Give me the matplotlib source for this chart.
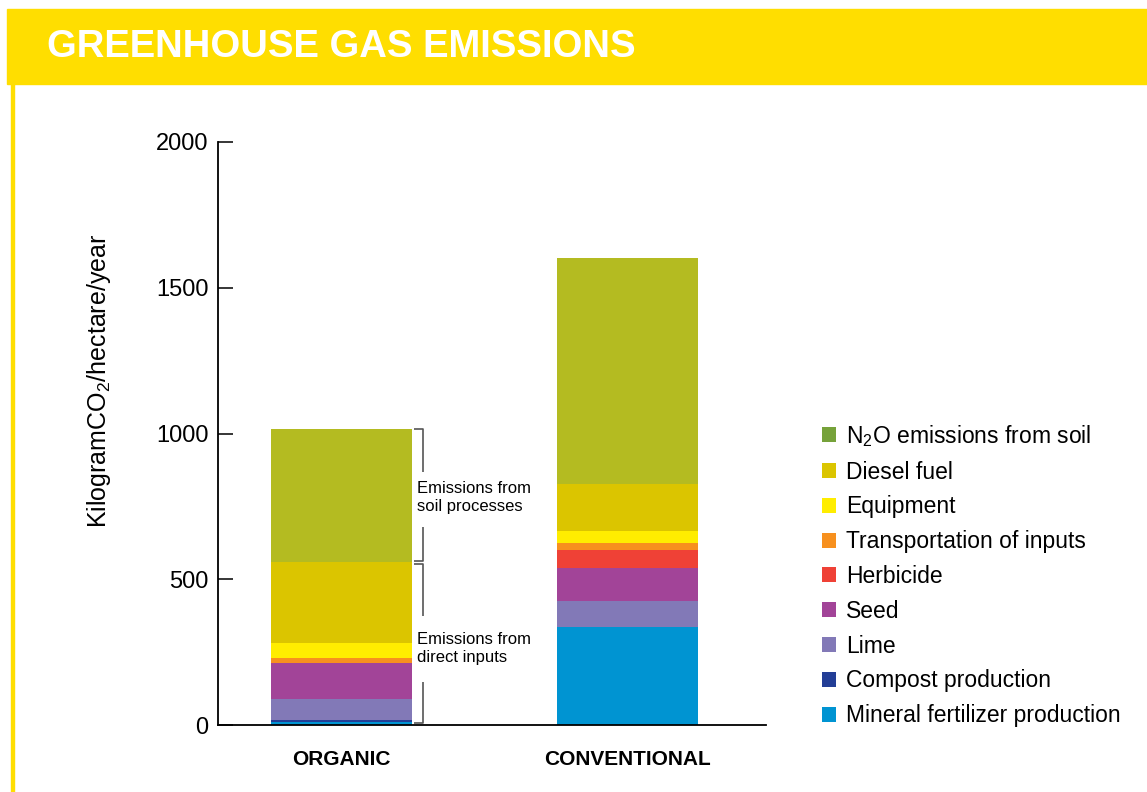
import numpy as np
import matplotlib.pyplot as plt
from matplotlib.patches import Patch, Rectangle

plt.rcParams['font.family'] = ['Liberation Sans', 'DejaVu Sans']
plt.rcParams['mathtext.default'] = 'regular'

systems = ['ORGANIC', 'CONVENTIONAL']

# stacked from bottom to top
sources = ['Mineral fertilizer production', 'Compost production', 'Lime', 'Seed',
           'Herbicide', 'Transportation of inputs', 'Equipment', 'Diesel fuel',
           'N$_2$O emissions from soil']
organic = [10, 6, 73, 124, 0, 17, 51, 278, 456]
conventional = [336, 0, 89, 114, 61, 24, 41, 161, 776]

bar_colors = ['#0094d2', '#233e96', '#8279b7', '#a24498', '#ef4136',
              '#f7901e', '#ffed00', '#dbc500', '#b4bb21']
legend_colors = bar_colors[:-1] + ['#76a23a']

yticks = [0, 500, 1000, 1500, 2000]

fig = plt.figure(figsize=(11.47, 7.92), dpi=100)

# yellow header band and thin left rule
fig.patches.append(Rectangle((7 / 1147, 1 - 84 / 792), 1, 75 / 792,
                             transform=fig.transFigure, color='#ffde00', zorder=0))
fig.patches.append(Rectangle((10.5 / 1147, 0), 3 / 1147, 1 - 84 / 792,
                             transform=fig.transFigure, color='#ffde00', zorder=0))
fig.text(47 / 1147, 1 - 47 / 792, 'GREENHOUSE GAS EMISSIONS', color='white',
         fontsize=27.5, fontweight='bold', va='center', ha='left')

ax = fig.add_axes([218 / 1147, 1 - 725 / 792, 548 / 1147, 583 / 792])

x = np.arange(len(systems))
width = 0.493
data = np.array([organic, conventional]).T
bottom = np.zeros(len(systems))
for vals, color, name in zip(data, bar_colors, sources):
    ax.bar(x, vals, width, bottom=bottom, color=color, label=name, linewidth=0)
    bottom += vals

ax.set_xlim(-0.432, 1.484)
ax.set_ylim(0, 2000)
ax.set_yticks(yticks)
ax.set_xticks(x)
ax.set_xticklabels(systems, fontweight='bold', fontsize=15)
ax.tick_params(axis='x', length=0, pad=18)
ax.tick_params(axis='y', direction='in', length=11, width=1.1, labelsize=17, pad=7)
for s in ['top', 'right']:
    ax.spines[s].set_visible(False)
for s in ['left', 'bottom']:
    ax.spines[s].set_linewidth(1.3)

ax.set_ylabel('KilogramCO$_2$/hectare/year', fontsize=18)
ax.yaxis.label.set_va('center')
ax.yaxis.set_label_coords(-0.217, 0.59)

# brackets beside the organic bar
total = sum(organic)
direct = sum(organic[:-1])
bx0, bx1 = 0.253, 0.285
brackets = [
    (direct + 3, total, 779, 89, 100, 'Emissions from\nsoil processes'),
    (7, direct - 7, 264, 110, 117, 'Emissions from\ndirect inputs'),
]
for lo, hi, mid, gap_up, gap_dn, text in brackets:
    kw = dict(color='#555555', lw=1.2, solid_capstyle='butt')
    ax.plot([bx0, bx1, bx1], [hi, hi, mid + gap_up], **kw)
    ax.plot([bx1, bx1, bx0], [mid - gap_dn, lo, lo], **kw)
    ax.text(0.264, mid, text, fontsize=12, va='center', ha='left', linespacing=1.25)

handles = [Patch(facecolor=c, label=n) for c, n in zip(legend_colors, sources)][::-1]
fig.legend(handles=handles, loc='center left', bbox_to_anchor=(813 / 1147, 1 - 575 / 792),
           frameon=False, fontsize=16.5, handlelength=0.62, handleheight=0.62,
           handletextpad=0.42, labelspacing=0.515, borderaxespad=0)

plt.savefig('out.png', dpi=100)
